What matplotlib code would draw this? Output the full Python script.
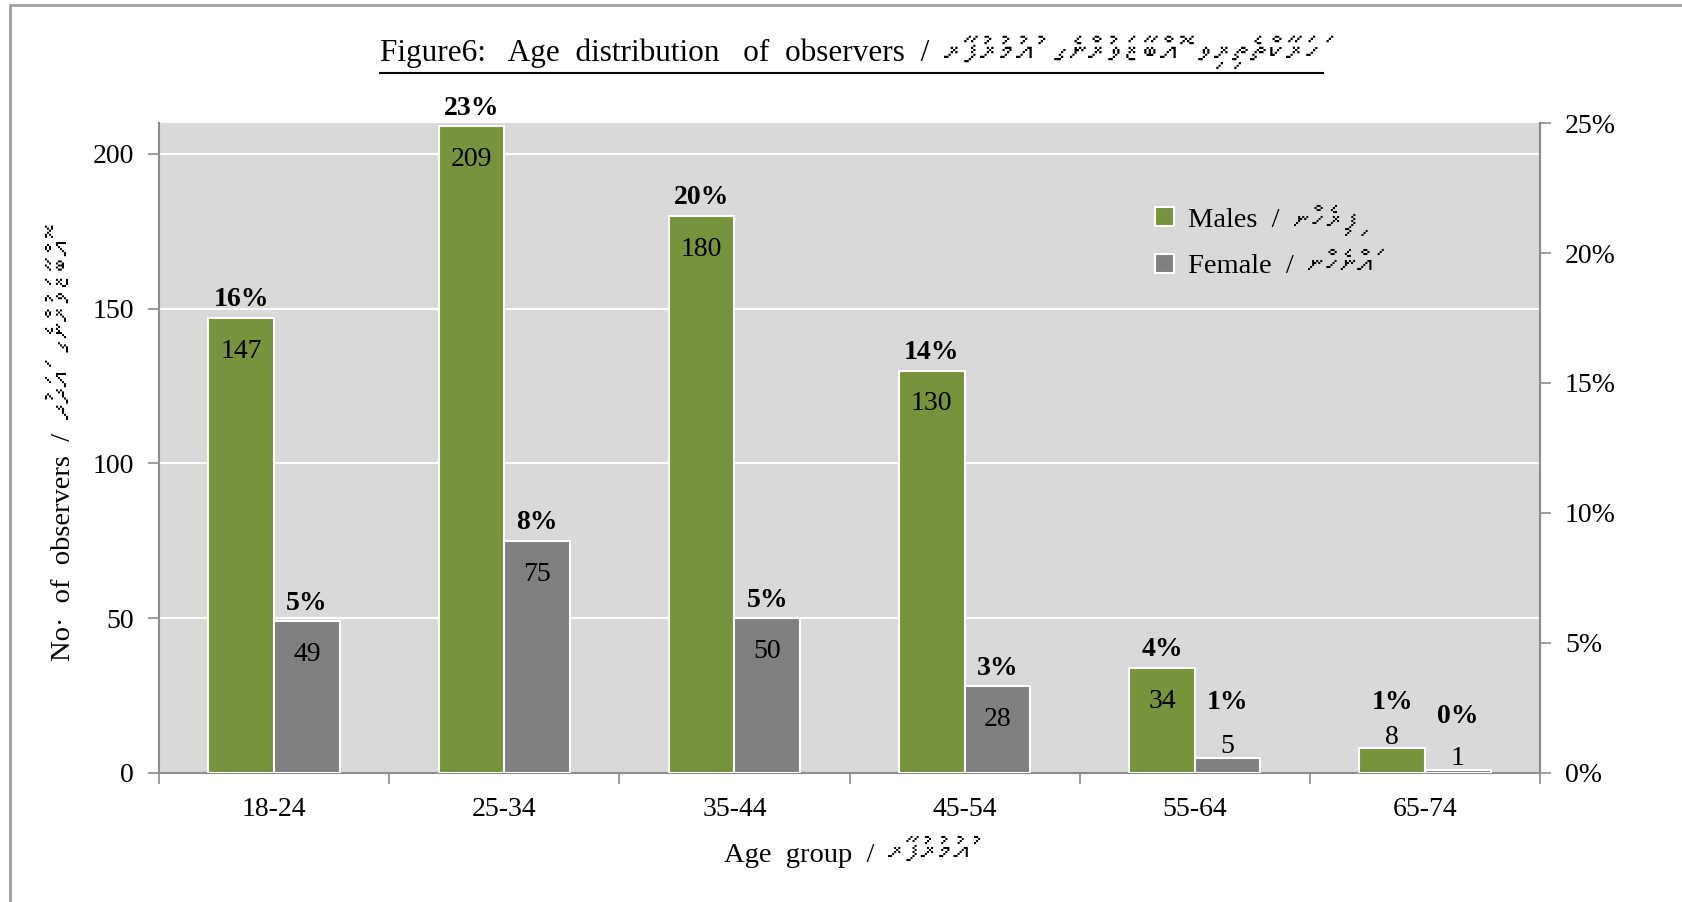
import matplotlib
matplotlib.use("Agg")
import matplotlib.pyplot as plt
import numpy as np
from matplotlib import font_manager, ft2font
from matplotlib.patches import Patch, Rectangle
from matplotlib.lines import Line2D

# Data
age_groups = ['18-24', '25-34', '35-44', '45-54', '55-64', '65-74']
males = [147, 209, 180, 130, 34, 8]
females = [49, 75, 50, 28, 5, 1]
males_pct = [16, 23, 20, 14, 4, 1]
females_pct = [5, 8, 5, 3, 1, 0]

title_en = 'Figure6:   Age  distribution   of  observers  /  '
title_dv = 'ހަރަކާތްތެރިވި އޮބްޒާވަރުންގެ އުމުރުފުރާ'
ylabel_en = 'No·  of  observers  /  '
ylabel_dv = 'އޮބްޒާވަރުންގެ އަދަދު'
xlabel_en = 'Age  group  /  '
xlabel_dv = 'އުމުރުފުރާ'
legend_en = ['Males  /  ', 'Female  /  ']
legend_dv = ['ފިރިހެން', 'އަންހެން']

GREEN = '#77933C'
GREY = '#808080'
BG = '#D9D9D9'
AXIS = '#8C8C8C'
W, H = 1682, 902
DV_SCALE = 1.15


def rtl(s):
    # matplotlib lays text out left to right, so flip the Thaana run
    # keeping each letter together with its vowel sign
    clusters = []
    for ch in s:
        if 0x07A6 <= ord(ch) <= 0x07B0 and clusters:
            clusters[-1] += ch
        else:
            clusters.append(ch)
    return ''.join(reversed(clusters))


# look for an installed font that has Thaana letters
thaana_font = None
for f in font_manager.fontManager.ttflist:
    if 'CJK' in f.name:
        continue
    try:
        if 0x0780 in ft2font.FT2Font(f.fname).get_charmap():
            thaana_font = f.name
            break
    except Exception:
        pass

plt.rcParams['font.family'] = ['Liberation Serif', 'DejaVu Sans']
dv_family = [thaana_font, 'DejaVu Sans'] if thaana_font else ['DejaVu Sans']

fig = plt.figure(figsize=(W / 100, H / 100), dpi=100)
ax = fig.add_axes([159 / W, 129 / H, 1381 / W, 650 / H])
ax.set_facecolor(BG)

x = np.arange(len(age_groups))
w = 0.285
ax.bar(x - w / 2, males, w, color=GREEN, edgecolor='white', linewidth=1.5, zorder=3)
ax.bar(x + w / 2, females, w, color=GREY, edgecolor='white', linewidth=1.5, zorder=3)

ax.set_xlim(-0.5, len(age_groups) - 0.5)
ax.set_ylim(0, 210)
ax.set_yticks([0, 50, 100, 150, 200])
ax.yaxis.grid(True, color='white', linewidth=1.5, zorder=1)
ax.set_axisbelow(True)

ax.set_xticks(np.arange(-0.5, len(age_groups), 1))
ax.set_xticklabels([])
ax.set_xticks(x, minor=True)
ax.set_xticklabels(age_groups, minor=True)
ax.tick_params(axis='x', which='major', length=8, color=AXIS, width=1.2)
ax.tick_params(axis='x', which='minor', length=0, labelsize=20, pad=17)
ax.tick_params(axis='y', length=8, color=AXIS, width=1.2, labelsize=20, pad=10)

for s in ['left', 'bottom', 'right']:
    ax.spines[s].set_color(AXIS)
    ax.spines[s].set_linewidth(1.5)
ax.spines['top'].set_visible(False)

ax2 = ax.twinx()
ax2.set_ylim(0, 0.25)
pct_ticks = np.arange(0, 0.26, 0.05)
ax2.set_yticks(pct_ticks)
ax2.set_yticklabels(['{:.0f}%'.format(t * 100) for t in pct_ticks])
ax2.tick_params(axis='y', length=8, color=AXIS, width=1.2, labelsize=20, pad=10)
for s in ['left', 'bottom', 'top']:
    ax2.spines[s].set_visible(False)
ax2.spines['right'].set_color(AXIS)
ax2.spines['right'].set_linewidth(1.5)

# value labels
for offs, vals, pcts in [(-w / 2, males, males_pct), (w / 2, females, females_pct)]:
    for xi, v, p in zip(x + offs, vals, pcts):
        if v >= 20:
            ax.annotate(str(v), (xi, v), xytext=(0, -24), textcoords='offset points',
                        ha='center', va='center', fontsize=20, zorder=5)
        else:
            ax.annotate(str(v), (xi, v), xytext=(0, 8), textcoords='offset points',
                        ha='center', va='center', fontsize=20, zorder=5)
        lift = 13 if p > 0 else 3
        ax.annotate('{}%'.format(p), (xi, max(v, 17)), xytext=(0, lift),
                    textcoords='offset points', ha='center', va='center',
                    fontsize=20, fontweight='bold', zorder=5)

handles = [Patch(facecolor=GREEN, edgecolor='white', linewidth=1.5),
           Patch(facecolor=GREY, edgecolor='white', linewidth=1.5)]
leg = ax.legend(handles, legend_en,
                loc='upper left', bbox_to_anchor=(0.703, 0.91), frameon=False,
                fontsize=20.5, handlelength=0.65, handleheight=0.65,
                handletextpad=0.5, labelspacing=0.75)


def mixed(cx, cy, en, dv, size, rotation=0):
    # english part followed by the thaana part, centred on (cx, cy) in pixels
    t1 = fig.text(0, 0, en, fontsize=size, rotation=rotation,
                  ha='left', va='center_baseline', rotation_mode='anchor')
    t2 = fig.text(0, 0, rtl(dv), fontsize=size * DV_SCALE, rotation=rotation,
                  family=dv_family, ha='left', va='center_baseline',
                  rotation_mode='anchor')
    fig.canvas.draw()
    r = fig.canvas.get_renderer()
    b1, b2 = t1.get_window_extent(r), t2.get_window_extent(r)
    if rotation == 0:
        l1, l2 = b1.width, b2.width
        start = cx - (l1 + l2) / 2
        t1.set_position((start / W, 1 - cy / H))
        t2.set_position(((start + l1) / W, 1 - cy / H))
        return start, start + l1 + l2
    l1, l2 = b1.height, b2.height
    start = (H - cy) - (l1 + l2) / 2
    t1.set_position((cx / W, start / H))
    t2.set_position((cx / W, (start + l1) / H))
    return start, start + l1 + l2


x0, x1 = mixed(851, 50, title_en, title_dv, 22.5)
fig.add_artist(Line2D([x0 / W, x1 / W], [1 - 73 / H, 1 - 73 / H],
                      transform=fig.transFigure, color='black', linewidth=1.5))
mixed(61, 450, ylabel_en, ylabel_dv, 20.5, rotation=90)
mixed(847, 852, xlabel_en, xlabel_dv, 20.5)

# thaana part of the legend labels
fig.canvas.draw()
r = fig.canvas.get_renderer()
for txt, dv in zip(leg.get_texts(), legend_dv):
    bb = txt.get_window_extent(r)
    fig.text(bb.x1 / W, (bb.y0 + bb.y1) / 2 / H, rtl(dv), family=dv_family,
             fontsize=20.5 * DV_SCALE, ha='left', va='center')

# outer frame
fig.add_artist(Rectangle((10 / W, -0.05), 1.1, 1 - 5 / H + 0.05,
                         transform=fig.transFigure, fill=False,
                         edgecolor='#A0A0A0', linewidth=2))

fig.savefig('out.png', dpi=100)
